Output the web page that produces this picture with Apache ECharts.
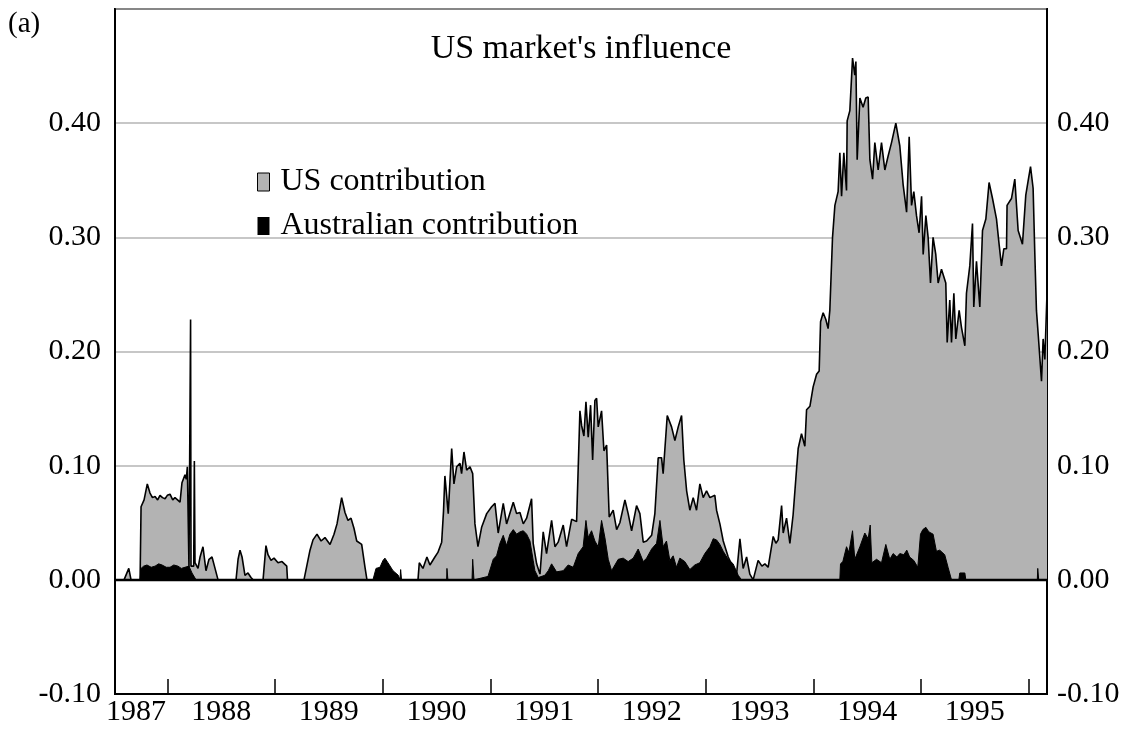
<!DOCTYPE html>
<html>
<head>
<meta charset="utf-8">
<title>US market's influence</title>
<script src="https://cdn.jsdelivr.net/npm/echarts@6/dist/echarts.min.js"></script>
<style>
  html, body { margin: 0; padding: 0; background: #fff; }
  #main { width: 1136px; height: 729px; }
</style>
</head>
<body>
<div id="main"></div>
<script>
// year ticks sit at mid-year, labels at the start of each year
var tickYears = [1987.5, 1988.5, 1989.5, 1990.5, 1991.5, 1992.5, 1993.5, 1994.5, 1995.5];
var labelYears = [1987.21, 1988, 1989, 1990, 1991, 1992, 1993, 1994, 1995];
var xMin = 1987.014, xMax = 1995.67;

// [year, value]
var usContribution = [
  [1987.014, 0], [1987.098, 0], [1987.142, 0.010], [1987.163, 0], [1987.247, 0], [1987.256, 0.064],
  [1987.284, 0.070], [1987.314, 0.084], [1987.339, 0.076], [1987.362, 0.072], [1987.386, 0.073],
  [1987.41, 0.070], [1987.432, 0.074], [1987.455, 0.072], [1987.479, 0.071], [1987.50, 0.074],
  [1987.525, 0.075], [1987.55, 0.070], [1987.571, 0.072], [1987.595, 0.070], [1987.618, 0.068],
  [1987.636, 0.085], [1987.664, 0.092], [1987.676, 0.088], [1987.686, 0.099], [1987.701, 0.011],
  [1987.712, 0.011], [1987.716, 0.228], [1987.720, 0.012], [1987.745, 0.012], [1987.751, 0.104],
  [1987.757, 0.015], [1987.785, 0.010], [1987.804, 0.020], [1987.831, 0.029], [1987.859, 0.008],
  [1987.887, 0.018], [1987.915, 0.020], [1987.943, 0.010], [1987.971, 0],
  [1988.138, 0], [1988.157, 0.018], [1988.175, 0.026], [1988.194, 0.020], [1988.221, 0.004],
  [1988.249, 0.006], [1988.277, 0.002], [1988.296, 0],
  [1988.389, 0], [1988.416, 0.030], [1988.435, 0.022], [1988.463, 0.017], [1988.491, 0.019],
  [1988.528, 0.015], [1988.565, 0.016], [1988.609, 0.012], [1988.616, 0],
  [1988.769, 0], [1988.825, 0.026], [1988.853, 0.035], [1988.890, 0.040], [1988.928, 0.034],
  [1988.964, 0.037], [1989.011, 0.031], [1989.048, 0.040], [1989.076, 0.049], [1989.119, 0.072],
  [1989.150, 0.059], [1989.178, 0.052], [1989.206, 0.054], [1989.234, 0.045], [1989.259, 0.034],
  [1989.305, 0.031], [1989.336, 0.011], [1989.354, 0],
  [1989.828, 0], [1989.840, 0.015], [1989.874, 0.010], [1989.911, 0.020], [1989.939, 0.013],
  [1989.985, 0.020], [1990.013, 0.024], [1990.048, 0.033], [1990.065, 0.060], [1990.078, 0.091],
  [1990.094, 0.092], [1990.109, 0.058], [1990.141, 0.115], [1990.162, 0.084], [1990.187, 0.099],
  [1990.218, 0.102], [1990.233, 0.093], [1990.255, 0.112], [1990.280, 0.096], [1990.311, 0.099],
  [1990.336, 0.093], [1990.357, 0.049], [1990.385, 0.029], [1990.419, 0.046], [1990.466, 0.058],
  [1990.512, 0.064], [1990.543, 0.067], [1990.573, 0.041], [1990.620, 0.067], [1990.651, 0.049],
  [1990.713, 0.068], [1990.744, 0.058], [1990.775, 0.059], [1990.806, 0.049], [1990.837, 0.054],
  [1990.883, 0.071], [1990.898, 0.032], [1990.930, 0.014], [1990.961, 0.005], [1990.991, 0.042],
  [1991.022, 0.023], [1991.069, 0.052], [1991.100, 0.029], [1991.130, 0.033], [1991.177, 0.048],
  [1991.208, 0.029], [1991.255, 0.053], [1991.301, 0.051], [1991.332, 0.148], [1991.348, 0.135],
  [1991.369, 0.126], [1991.388, 0.156], [1991.409, 0.125], [1991.431, 0.153], [1991.450, 0.105],
  [1991.471, 0.157], [1991.487, 0.159], [1991.502, 0.134], [1991.533, 0.148], [1991.555, 0.113],
  [1991.580, 0.118], [1991.604, 0.055], [1991.641, 0.061], [1991.673, 0.044], [1991.703, 0.050],
  [1991.750, 0.070], [1991.780, 0.058], [1991.812, 0.043], [1991.858, 0.065], [1991.889, 0.058],
  [1991.920, 0.033], [1991.951, 0.034], [1991.998, 0.039], [1992.028, 0.058], [1992.059, 0.107],
  [1992.090, 0.107], [1992.105, 0.093], [1992.143, 0.144], [1992.183, 0.134], [1992.214, 0.122],
  [1992.245, 0.134], [1992.276, 0.144], [1992.297, 0.105], [1992.323, 0.078], [1992.353, 0.061],
  [1992.384, 0.072], [1992.415, 0.061], [1992.446, 0.084], [1992.477, 0.072], [1992.508, 0.078],
  [1992.539, 0.072], [1992.585, 0.074], [1992.601, 0.061], [1992.632, 0.049], [1992.663, 0.034],
  [1992.709, 0.020], [1992.755, 0.011], [1992.787, 0.005], [1992.818, 0.036], [1992.848, 0.010],
  [1992.880, 0.020], [1992.910, 0.005], [1992.941, 0], [1992.987, 0.017],
  [1993.022, 0.012], [1993.050, 0.014], [1993.080, 0.011], [1993.127, 0.038], [1993.152, 0.032],
  [1993.173, 0.035], [1993.205, 0.065], [1993.220, 0.041], [1993.251, 0.054], [1993.282, 0.032],
  [1993.312, 0.057], [1993.344, 0.097], [1993.359, 0.115], [1993.390, 0.128], [1993.421, 0.117],
  [1993.437, 0.149], [1993.468, 0.152], [1993.498, 0.169], [1993.530, 0.180], [1993.554, 0.183],
  [1993.567, 0.226], [1993.591, 0.234], [1993.616, 0.228], [1993.637, 0.220], [1993.653, 0.236],
  [1993.678, 0.300], [1993.700, 0.328], [1993.730, 0.340], [1993.746, 0.374], [1993.762, 0.336],
  [1993.783, 0.374], [1993.808, 0.341], [1993.814, 0.402], [1993.839, 0.411], [1993.864, 0.457],
  [1993.885, 0.442], [1993.895, 0.454], [1993.907, 0.368], [1993.932, 0.422], [1993.962, 0.414],
  [1993.987, 0.422], [1994.009, 0.423], [1994.025, 0.368], [1994.050, 0.351], [1994.071, 0.383],
  [1994.102, 0.359], [1994.133, 0.383], [1994.164, 0.359], [1994.194, 0.371], [1994.226, 0.383],
  [1994.266, 0.400], [1994.303, 0.380], [1994.334, 0.346], [1994.366, 0.322], [1994.390, 0.388],
  [1994.412, 0.328], [1994.433, 0.340], [1994.458, 0.319], [1994.482, 0.304], [1994.505, 0.336],
  [1994.520, 0.285], [1994.545, 0.319], [1994.566, 0.300], [1994.588, 0.260], [1994.612, 0.300],
  [1994.637, 0.285], [1994.659, 0.260], [1994.690, 0.272], [1994.730, 0.260], [1994.743, 0.208],
  [1994.767, 0.245], [1994.783, 0.208], [1994.805, 0.251], [1994.823, 0.211], [1994.854, 0.236],
  [1994.876, 0.221], [1994.907, 0.205], [1994.922, 0.251], [1994.953, 0.275], [1994.978, 0.312],
  [1994.990, 0.239], [1995.015, 0.279], [1995.046, 0.239], [1995.071, 0.306], [1995.102, 0.316],
  [1995.132, 0.348], [1995.164, 0.334], [1995.201, 0.316], [1995.225, 0.294], [1995.247, 0.275],
  [1995.269, 0.290], [1995.294, 0.290], [1995.299, 0.328], [1995.340, 0.334], [1995.371, 0.351],
  [1995.402, 0.306], [1995.442, 0.294], [1995.473, 0.337], [1995.494, 0.349], [1995.517, 0.362],
  [1995.541, 0.343], [1995.557, 0.285], [1995.572, 0.236], [1995.589, 0.214], [1995.619, 0.174],
  [1995.634, 0.211], [1995.650, 0.193], [1995.670, 0.251]
];

var ausContribution = [
  [1987.014, 0], [1987.247, 0], [1987.256, 0.010], [1987.28, 0.012], [1987.311, 0.013], [1987.35, 0.011],
  [1987.386, 0.012], [1987.42, 0.014], [1987.451, 0.013], [1987.49, 0.011], [1987.525, 0.011],
  [1987.56, 0.013], [1987.599, 0.012], [1987.63, 0.010], [1987.664, 0.011], [1987.701, 0.012],
  [1987.729, 0.006], [1987.767, 0],
  [1989.410, 0], [1989.438, 0.010], [1989.475, 0.011], [1989.503, 0.017], [1989.521, 0.019],
  [1989.549, 0.015], [1989.596, 0.008], [1989.645, 0.004], [1989.661, 0], [1989.667, 0.009], [1989.675, 0],
  [1990.094, 0], [1990.097, 0.010], [1990.106, 0],
  [1990.330, 0], [1990.336, 0.018], [1990.348, 0],
  [1990.478, 0.003], [1990.527, 0.018], [1990.558, 0.021], [1990.589, 0.032], [1990.620, 0.039],
  [1990.651, 0.030], [1990.682, 0.040], [1990.713, 0.044], [1990.744, 0.040], [1990.775, 0.042],
  [1990.806, 0.043], [1990.837, 0.040], [1990.868, 0.034], [1990.898, 0.017], [1990.914, 0.008],
  [1990.945, 0.002], [1991.006, 0.004], [1991.038, 0.008], [1991.069, 0.014], [1991.115, 0.007],
  [1991.177, 0.008], [1991.223, 0.013], [1991.270, 0.011], [1991.316, 0.023], [1991.362, 0.029],
  [1991.388, 0.052], [1991.409, 0.037], [1991.440, 0.043], [1991.471, 0.034], [1991.502, 0.029],
  [1991.533, 0.052], [1991.564, 0.037], [1991.595, 0.018], [1991.626, 0.008], [1991.657, 0.013],
  [1991.688, 0.018], [1991.734, 0.019], [1991.780, 0.016], [1991.827, 0.019], [1991.873, 0.027],
  [1991.920, 0.016], [1991.951, 0.019], [1991.998, 0.027], [1992.044, 0.032], [1992.075, 0.052],
  [1992.105, 0.029], [1992.136, 0.034], [1992.167, 0.017], [1992.198, 0.021], [1992.229, 0.011],
  [1992.260, 0.019], [1992.306, 0.016], [1992.353, 0.009], [1992.399, 0.013], [1992.446, 0.015],
  [1992.492, 0.023], [1992.539, 0.029], [1992.570, 0.036], [1992.601, 0.035], [1992.632, 0.031],
  [1992.663, 0.025], [1992.709, 0.018], [1992.755, 0.014], [1992.802, 0.004], [1992.833, 0],
  [1993.746, 0], [1993.752, 0.014], [1993.774, 0.016], [1993.808, 0.029], [1993.830, 0.024],
  [1993.864, 0.043], [1993.885, 0.018], [1993.932, 0.029], [1993.978, 0.041], [1994.009, 0.036],
  [1994.028, 0.048], [1994.043, 0.015], [1994.087, 0.018], [1994.133, 0.015], [1994.173, 0.031],
  [1994.210, 0.018], [1994.241, 0.023], [1994.276, 0.020], [1994.303, 0.023], [1994.340, 0.022],
  [1994.368, 0.026], [1994.394, 0.020], [1994.433, 0.017], [1994.470, 0.011], [1994.495, 0.040],
  [1994.517, 0.044], [1994.545, 0.046], [1994.573, 0.042], [1994.612, 0.040], [1994.643, 0.025],
  [1994.674, 0.026], [1994.720, 0.022], [1994.751, 0.011], [1994.783, 0],
  [1994.851, 0], [1994.860, 0.006], [1994.907, 0.006], [1994.916, 0],
  [1995.580, 0], [1995.584, 0.010], [1995.593, 0], [1995.670, 0]
];

var serif = 'Liberation Serif';
var chart = echarts.init(document.getElementById('main'));

var yAxisBase = {
  type: 'value',
  min: -0.1,
  max: 0.5,
  interval: 0.1,
  axisLine: { show: true, lineStyle: { color: '#000', width: 2 } },
  axisTick: { show: false },
  axisLabel: {
    fontFamily: serif,
    fontSize: 30,
    color: '#000',
    margin: 14,
    formatter: function (v) { return v > 0.45 ? '' : v.toFixed(2); }
  }
};

var option = {
  backgroundColor: '#fff',
  animation: false,
  title: [
    {
      text: "US market's influence",
      left: 576,
      top: 27,
      textAlign: 'center',
      textStyle: { fontFamily: serif, fontSize: 34, fontWeight: 'normal', color: '#000' }
    },
    {
      text: '(a)',
      left: 3,
      top: 5,
      textStyle: { fontFamily: serif, fontSize: 29, fontWeight: 'normal', color: '#000' }
    }
  ],
  legend: {
    orient: 'vertical',
    left: 252,
    top: 161,
    itemWidth: 12,
    itemHeight: 18,
    itemGap: 12,
    textStyle: { fontFamily: serif, fontSize: 32, color: '#000', padding: [0, 0, 0, 6] },
    data: [
      { name: 'US contribution', icon: 'rect', itemStyle: { color: '#b3b3b3', borderColor: '#000', borderWidth: 1 } },
      { name: 'Australian contribution', icon: 'rect', itemStyle: { color: '#000', borderWidth: 0 } }
    ]
  },
  grid: {
    left: 115,
    right: 89,
    top: 9,
    bottom: 35,
    show: true,
    borderColor: '#000',
    borderWidth: 2
  },
  xAxis: {
    type: 'value',
    min: xMin,
    max: xMax,
    axisLine: { show: true, onZero: false, lineStyle: { color: '#000', width: 2 } },
    axisTick: {
      show: true,
      inside: true,
      length: 15,
      customValues: tickYears,
      lineStyle: { color: '#000', width: 1.5 }
    },
    axisLabel: {
      customValues: labelYears,
      fontFamily: serif,
      fontSize: 30,
      color: '#000',
      margin: 3,
      formatter: function (v) { return String(Math.floor(v + 1e-6)); }
    },
    splitLine: { show: false }
  },
  yAxis: [
    Object.assign({}, yAxisBase, {
      position: 'left',
      splitLine: { show: true, lineStyle: { color: '#b4b4b4', width: 1.5 } }
    }),
    Object.assign({}, yAxisBase, {
      position: 'right',
      axisLabel: Object.assign({}, yAxisBase.axisLabel, { margin: 10 }),
      splitLine: { show: false }
    })
  ],
  series: [
    {
      name: 'US contribution',
      type: 'line',
      data: usContribution,
      yAxisIndex: 0,
      showSymbol: false,
      symbol: 'none',
      sampling: 'none',
      itemStyle: { color: '#b3b3b3' },
      lineStyle: { color: '#000', width: 1.6 },
      areaStyle: { color: '#b3b3b3', opacity: 1 },
      z: 2
    },
    {
      name: 'Australian contribution',
      type: 'line',
      data: ausContribution,
      yAxisIndex: 0,
      showSymbol: false,
      symbol: 'none',
      sampling: 'none',
      itemStyle: { color: '#000' },
      lineStyle: { color: '#000', width: 1 },
      areaStyle: { color: '#000', opacity: 1 },
      z: 3,
      markLine: {
        silent: true,
        symbol: 'none',
        label: { show: false },
        lineStyle: { color: '#000', width: 2.4, type: 'solid' },
        data: [{ yAxis: 0 }]
      }
    }
  ]
};

chart.setOption(option);
</script>
</body>
</html>
